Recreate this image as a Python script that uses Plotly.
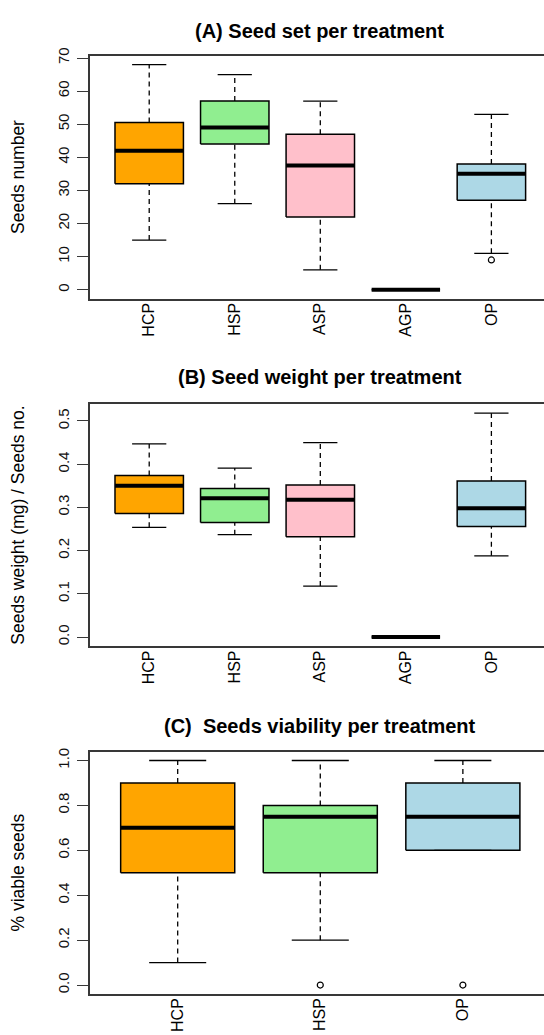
import plotly.graph_objects as go

# ---- data: five-number summaries per treatment ----
categories_ab = ["HCP", "HSP", "ASP", "AGP", "OP"]
colors_ab = ["orange", "lightgreen", "pink", "khaki", "lightblue"]

seed_low = [15, 26, 6, 0, 11]
seed_q1 = [32, 44, 22, 0, 27]
seed_med = [42, 49, 37.5, 0, 35]
seed_q3 = [50.5, 57, 47, 0, 38]
seed_high = [68, 65, 57, 0, 53]
seed_out = [[], [], [], [], [9]]

weight_low = [0.254, 0.237, 0.118, 0, 0.188]
weight_q1 = [0.286, 0.265, 0.232, 0, 0.256]
weight_med = [0.350, 0.321, 0.318, 0, 0.298]
weight_q3 = [0.374, 0.344, 0.352, 0, 0.361]
weight_high = [0.447, 0.391, 0.450, 0, 0.518]
weight_out = [[], [], [], [], []]

categories_c = ["HCP", "HSP", "OP"]
colors_c = ["orange", "lightgreen", "lightblue"]
via_low = [0.1, 0.2, 0.6]
via_q1 = [0.5, 0.5, 0.6]
via_med = [0.7, 0.75, 0.75]
via_q3 = [0.9, 0.8, 0.9]
via_high = [1.0, 1.0, 1.0]
via_out = [[], [0.0], [0.0]]

W, H = 544, 1035
FONT = "Liberation Sans, Arial, Helvetica, sans-serif"
FRAME = "#383838"
LEFT = 89.5

fig = go.Figure()


def add_boxes(idx, cats, colors, lo, q1, med, q3, hi, outs):
    xa = "x" if idx == 1 else f"x{idx}"
    ya = "y" if idx == 1 else f"y{idx}"
    half, cap = 0.4, 0.2
    wx, wy, cx, cy, mx, my, ox, oy = [], [], [], [], [], [], [], []
    for i, c in enumerate(cats):
        p = i + 1
        # filled box
        fig.add_trace(go.Scatter(
            x=[p - half, p + half, p + half, p - half, p - half],
            y=[q1[i], q1[i], q3[i], q3[i], q1[i]],
            mode="lines", fill="toself", fillcolor=colors[i],
            line=dict(color="black", width=1.5),
            xaxis=xa, yaxis=ya, hoverinfo="skip", showlegend=False))
        # dashed whiskers
        if hi[i] > q3[i]:
            wx += [p, p, None]; wy += [q3[i], hi[i], None]
        if lo[i] < q1[i]:
            wx += [p, p, None]; wy += [lo[i], q1[i], None]
        # whisker caps
        if hi[i] > q3[i] or lo[i] < q1[i]:
            cx += [p - cap, p + cap, None, p - cap, p + cap, None]
            cy += [hi[i], hi[i], None, lo[i], lo[i], None]
        # median
        mx += [p - half, p + half, None]; my += [med[i], med[i], None]
        for v in outs[i]:
            ox.append(p); oy.append(v)
    fig.add_trace(go.Scatter(x=wx, y=wy, mode="lines",
                             line=dict(color="black", width=1.3, dash="5px,4px"),
                             xaxis=xa, yaxis=ya, hoverinfo="skip", showlegend=False))
    fig.add_trace(go.Scatter(x=cx, y=cy, mode="lines",
                             line=dict(color="black", width=1.3),
                             xaxis=xa, yaxis=ya, hoverinfo="skip", showlegend=False))
    fig.add_trace(go.Scatter(x=mx, y=my, mode="lines",
                             line=dict(color="black", width=4),
                             xaxis=xa, yaxis=ya, hoverinfo="skip", showlegend=False))
    if ox:
        fig.add_trace(go.Scatter(x=ox, y=oy, mode="markers",
                                 marker=dict(symbol="circle-open", size=6,
                                             color="black", line=dict(width=1.2)),
                                 xaxis=xa, yaxis=ya, hoverinfo="skip", showlegend=False))


add_boxes(1, categories_ab, colors_ab, seed_low, seed_q1, seed_med, seed_q3, seed_high, seed_out)
add_boxes(2, categories_ab, colors_ab, weight_low, weight_q1, weight_med, weight_q3, weight_high, weight_out)
add_boxes(3, categories_c, colors_c, via_low, via_q1, via_med, via_q3, via_high, via_out)


def py(pix):
    return 1 - pix / H


panels = [
    # (top px, bottom px, x range, y range, y ticks, tick format, categories)
    (48, 293, [0.302, 5.615], [-2.72, 70.72], list(range(0, 71, 10)), "d", categories_ab),
    (398.7, 643.3, [0.302, 5.615], [-0.0214, 0.5402], [0, 0.1, 0.2, 0.3, 0.4, 0.5], ".1f", categories_ab),
    (749.3, 993.7, [0.3815, 3.569], [-0.04, 1.04], [0, 0.2, 0.4, 0.6, 0.8, 1.0], ".1f", categories_c),
]

layout = dict(
    width=W, height=H, margin=dict(l=0, r=0, t=0, b=0),
    paper_bgcolor="white", plot_bgcolor="white",
    font=dict(family=FONT, color="black"),
    showlegend=False,
)
for k, (top, bot, xr, yr, yt, fmt, cats) in enumerate(panels, start=1):
    sfx = "" if k == 1 else str(k)
    layout["xaxis" + sfx] = dict(
        domain=[LEFT / W, 1], range=xr, anchor="y" + sfx,
        showline=True, mirror=True, linecolor=FRAME, linewidth=1.5,
        ticks="", tickvals=list(range(1, len(cats) + 1)), ticktext=cats,
        tickangle=-90, tickfont=dict(size=16, family=FONT, color="black"),
        ticklabelstandoff=-4,
        showgrid=False, zeroline=False, fixedrange=True,
    )
    layout["yaxis" + sfx] = dict(
        domain=[py(bot), py(top)], range=yr, anchor="x" + sfx,
        showline=True, mirror=False, linecolor=FRAME, linewidth=1.5,
        ticks="outside", ticklen=11, tickwidth=1.2, tickcolor=FRAME,
        tickvals=yt, tickformat=fmt, tickangle=-90,
        tickfont=dict(size=15, family=FONT, color="#111"),
        ticklabelstandoff=2,
        showgrid=False, zeroline=False, fixedrange=True,
    )

fig.update_layout(**layout)

titles = [
    ("(A) Seed set per treatment", 22.7),
    ("(B) Seed weight per treatment", 372.3),
    ("(C)  Seeds viability per treatment", 723.3),
]
for txt, ypix in titles:
    fig.add_annotation(text="<b>" + txt.replace("  ", "&nbsp; ") + "</b>",
                       xref="paper", yref="paper", x=319.6 / W, y=py(ypix),
                       xanchor="center", yanchor="middle", showarrow=False,
                       font=dict(size=20, family=FONT, color="black"))

ytitles = [
    ("Seeds number", 170.5),
    ("Seeds weight (mg) / Seeds no.", 521),
    ("% viable seeds", 871.5),
]
for txt, ypix in ytitles:
    fig.add_annotation(text=txt, xref="paper", yref="paper",
                       x=17.7 / W, y=py(ypix), xanchor="center", yanchor="middle",
                       textangle=-90, showarrow=False,
                       font=dict(size=17.5, family=FONT, color="black"))

fig.write_html("out.html")
